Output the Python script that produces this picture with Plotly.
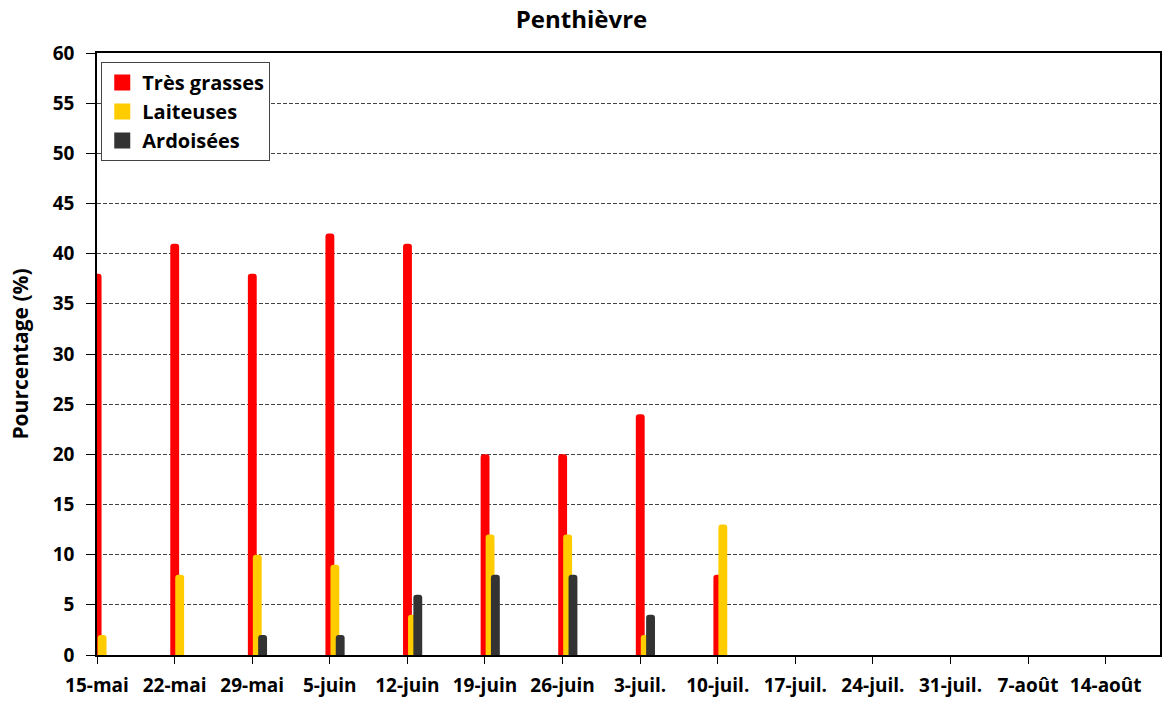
import plotly.graph_objects as go

dates = ["2023-05-15", "2023-05-22", "2023-05-29", "2023-06-05", "2023-06-12",
         "2023-06-19", "2023-06-26", "2023-07-03", "2023-07-10"]
tres_grasses = [38, 41, 38, 42, 41, 20, 20, 24, 8]
laiteuses = [2, 8, 10, 9, 4, 12, 12, 2, 13]
ardoisees = [0, 0, 2, 2, 6, 8, 8, 4, None]

tick_dates = ["2023-05-15", "2023-05-22", "2023-05-29", "2023-06-05", "2023-06-12",
              "2023-06-19", "2023-06-26", "2023-07-03", "2023-07-10", "2023-07-17",
              "2023-07-24", "2023-07-31", "2023-08-07", "2023-08-14"]
tick_labels = ["15-mai", "22-mai", "29-mai", "5-juin", "12-juin", "19-juin", "26-juin",
               "3-juil.", "10-juil.", "17-juil.", "24-juil.", "31-juil.", "7-août", "14-août"]

DAY = 86400000
W = 0.8 * DAY

fig = go.Figure()
series = [
    ("Très grasses", tres_grasses, "#FF0000", -0.39),
    ("Laiteuses", laiteuses, "#FFCC00", 0.06),
    ("Ardoisées", ardoisees, "#333333", 0.54),
]
for name, vals, col, off in series:
    fig.add_trace(go.Bar(
        x=dates, y=vals, name=name, showlegend=False,
        marker=dict(color=col, line=dict(width=0), cornerradius=3),
        width=W, offset=off * DAY,
    ))
# legend entries (square swatches)
for name, vals, col, off in series:
    fig.add_trace(go.Scatter(
        x=[None], y=[None], mode="markers", name="<b>%s</b>" % name,
        marker=dict(symbol="square", size=16, color=col),
    ))

font_family = "Open Sans, Noto Sans, DejaVu Sans, sans-serif"
fig.update_layout(
    width=1163, height=701,
    barmode="overlay",
    paper_bgcolor="white", plot_bgcolor="white",
    margin=dict(l=97, r=3, t=53, b=46),
    title=dict(text="<b>Penthièvre</b>", x=0.5, xanchor="center", y=0.972, yanchor="middle",
               font=dict(family=font_family, size=24, color="black")),
    font=dict(family=font_family, color="black"),
    legend=dict(x=0.004, y=0.985, xanchor="left", yanchor="top",
                bgcolor="white", bordercolor="#444444", borderwidth=1,
                font=dict(family=font_family, size=20, color="black"),
                tracegroupgap=0, itemsizing="trace", itemwidth=30),
    showlegend=True,
)
fig.update_xaxes(
    type="date", automargin=False,
    range=["2023-05-15", "2023-08-18 21:36"],
    tickvals=tick_dates, ticktext=["<b>%s</b>" % t for t in tick_labels],
    tickfont=dict(family=font_family, size=19, color="black"),
    ticks="outside", ticklen=7, tickcolor="black", ticklabelstandoff=5,
    showline=True, linecolor="black", linewidth=1.5, mirror=True,
    showgrid=False, zeroline=False,
)
fig.update_yaxes(
    automargin=False,
    range=[0, 60], dtick=5, tick0=0,
    tickfont=dict(family=font_family, size=19, color="black"),
    tickprefix="<b>", ticksuffix="</b>",
    ticks="outside", ticklen=9, tickcolor="black", ticklabelstandoff=8,
    showline=True, linecolor="black", linewidth=1.5, mirror=True,
    showgrid=True, gridcolor="#444444", griddash="4px,2px", gridwidth=1,
    zeroline=False,
    title=dict(text="<b>Pourcentage (%)</b>", font=dict(family=font_family, size=21, color="black"),
               standoff=18),
)
fig.write_html("out.html", config={"displayModeBar": False},
               post_script="document.body.style.margin='0';document.body.style.overflow='hidden';")
